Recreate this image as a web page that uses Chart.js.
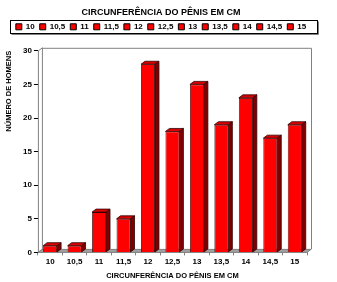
<!DOCTYPE html>
<html><head><meta charset="utf-8">
<script src="https://cdn.jsdelivr.net/npm/chart.js@4"></script>
<style>html,body{margin:0;padding:0;background:#fff}#wrap{width:337px;height:282px;position:relative}</style>
</head><body><div id="wrap"><canvas id="c" width="337" height="282"></canvas></div>
<script>
const categories = ['10','10,5','11','11,5','12','12,5','13','13,5','14','14,5','15'];
const counts = [1,1,6,5,28,18,25,19,23,17,19];
const yTicks = [0,5,10,15,20,25,30];
const titleText = 'CIRCUNFERÊNCIA DO PÊNIS EM CM';
const xTitle = 'CIRCUNFERÊNCIA DO PÊNIS EM CM';
const yTitle = 'NÚMERO DE HOMENS';

const FONT = "'Liberation Sans', Arial, sans-serif";
const DX = 4, DY = 3;

const bars3d = {
  id: 'bars3d',
  beforeDatasetsDraw(chart) {
    const {ctx, chartArea: a} = chart;
    ctx.save();
    ctx.lineWidth = 1;
    ctx.strokeStyle = '#808080';
    ctx.fillStyle = '#a0a0a0';
    ctx.beginPath();
    ctx.moveTo(a.left, a.bottom);
    ctx.lineTo(a.right, a.bottom);
    ctx.lineTo(a.right + DX, a.bottom - DY);
    ctx.lineTo(a.left + DX, a.bottom - DY);
    ctx.closePath();
    ctx.fill();
    ctx.stroke();
    ctx.beginPath();
    ctx.moveTo(a.left + 0.5, a.bottom);
    ctx.lineTo(a.left + 0.5, a.top);
    ctx.lineTo(a.left + DX + 0.5, a.top - DY);
    ctx.lineTo(a.left + DX + 0.5, a.bottom - DY);
    ctx.stroke();
    ctx.beginPath();
    ctx.moveTo(a.left + DX, a.top - DY + 0.5);
    ctx.lineTo(a.right + DX + 0.5, a.top - DY + 0.5);
    ctx.lineTo(a.right + DX + 0.5, a.bottom - DY);
    ctx.stroke();
    ctx.restore();
  },
  afterDatasetsDraw(chart) {
    const ctx = chart.ctx;
    const meta = chart.getDatasetMeta(0);
    ctx.save();
    ctx.lineWidth = 0.8;
    ctx.strokeStyle = '#300000';
    meta.data.forEach(bar => {
      const p = bar.getProps(['x', 'y', 'base', 'width'], true);
      const l = p.x - p.width / 2, r = p.x + p.width / 2, t = p.y, b = p.base;
      ctx.fillStyle = '#d80000';
      ctx.beginPath();
      ctx.moveTo(l, t); ctx.lineTo(r, t); ctx.lineTo(r + DX, t - DY); ctx.lineTo(l + DX, t - DY);
      ctx.closePath(); ctx.fill(); ctx.stroke();
      ctx.fillStyle = '#800000';
      ctx.beginPath();
      ctx.moveTo(r, t); ctx.lineTo(r + DX, t - DY); ctx.lineTo(r + DX, b - DY); ctx.lineTo(r, b);
      ctx.closePath(); ctx.fill(); ctx.stroke();
    });
    ctx.restore();
  }
};

const legendBox = {
  id: 'legendBox',
  afterDraw(chart) {
    const lg = chart.legend;
    const hb = lg.legendHitBoxes[0];
    const cy = Math.round(hb.top + hb.height / 2);
    const x1 = lg.left + 6, x2 = lg.right;
    const y1 = cy - 7, y2 = cy + 7;
    const ctx = chart.ctx;
    ctx.save();
    ctx.strokeStyle = '#000';
    ctx.lineWidth = 1;
    ctx.strokeRect(x1 + 0.5, y1 + 0.5, x2 - x1 - 1, y2 - y1 - 1);
    ctx.strokeStyle = '#808080';
    ctx.beginPath();
    ctx.moveTo(x1 + 1.5, y2 + 0.5);
    ctx.lineTo(x2 + 0.5, y2 + 0.5);
    ctx.lineTo(x2 + 0.5, y1 + 1.5);
    ctx.stroke();
    ctx.restore();
  }
};

new Chart(document.getElementById('c'), {
  type: 'bar',
  data: {
    labels: categories,
    datasets: [{
      label: 'Número de homens',
      data: counts,
      backgroundColor: '#ff0000',
      borderColor: '#300000',
      borderWidth: 0.8,
      barPercentage: 0.57,
      categoryPercentage: 1
    }]
  },
  options: {
    responsive: false,
    animation: false,
    devicePixelRatio: 1,
    layout: { padding: { left: 4, right: 19, top: 0, bottom: 2 } },
    plugins: {
      tooltip: { enabled: false },
      title: {
        display: true,
        text: titleText,
        color: '#000',
        font: { family: FONT, size: 9, weight: 'bold' },
        padding: { top: 7, bottom: 0 }
      },
      subtitle: {
        display: true,
        text: '',
        weight: 500,
        font: { family: FONT, size: 10, lineHeight: 1 },
        padding: 0
      },
      legend: {
        display: true,
        position: 'top',
        onClick: null,
        labels: {
          color: '#000',
          font: { family: FONT, size: 8, weight: 'bold' },
          boxWidth: 6,
          boxHeight: 6,
          padding: 5,
          generateLabels() {
            return categories.map((c, i) => ({
              text: c,
              fillStyle: '#ff0000',
              strokeStyle: '#000',
              lineWidth: 1,
              hidden: false,
              index: i,
              datasetIndex: 0
            }));
          }
        }
      }
    },
    scales: {
      x: {
        grid: { display: true, drawOnChartArea: false, offset: true, tickLength: 3, color: '#808080' },
        border: { display: false },
        ticks: { color: '#000', font: { family: FONT, size: 8, weight: 'bold' }, padding: 2 },
        title: { display: true, text: xTitle, color: '#000', font: { family: FONT, size: 7.5, weight: 'bold' }, padding: { top: 2, bottom: 0 } }
      },
      y: {
        min: 0, max: 30,
        afterBuildTicks(axis) { axis.ticks = yTicks.map(v => ({ value: v })); },
        grid: { display: true, drawOnChartArea: false, tickLength: 4, color: '#000' },
        border: { display: false },
        ticks: { color: '#000', font: { family: FONT, size: 8, weight: 'bold' }, padding: 2 },
        title: { display: true, text: yTitle, align: 'end', color: '#000', font: { family: FONT, size: 7.5, weight: 'bold' }, padding: { top: 0, bottom: 8 } }
      },
      spacer: {
        type: 'linear',
        position: 'right',
        display: true,
        grid: { display: false },
        border: { display: false },
        ticks: { display: false },
        afterFit(s) { s.width = 11; }
      }
    }
  },
  plugins: [bars3d, legendBox]
});
</script>
</body></html>
